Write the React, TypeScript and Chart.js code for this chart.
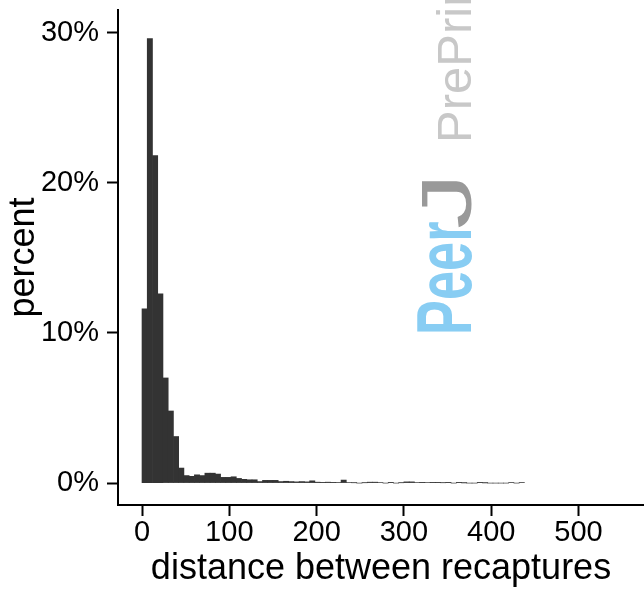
import React, { useEffect, useRef } from 'react';
import { Chart, registerables } from 'chart.js';

Chart.register(...registerables);

// Histogram: bins of fixed width starting at 0 (distance units)
const binStart = 0;
const binWidth = 6;
// percent of recaptures per bin
const percents = [
  11.6, 29.6, 21.8, 12.6, 7.0, 4.8, 3.1, 1.0, 0.5, 0.45,
  0.55, 0.5, 0.66, 0.66, 0.6, 0.38, 0.38, 0.42, 0.31, 0.25,
  0.22, 0.22, 0.1, 0.18, 0.18, 0.18, 0.1, 0.12, 0.1, 0.08,
  0.1, 0.08, 0.15, 0.06, 0.05, 0.06, 0.05, 0.04, 0.2, 0.03,
  0.02, 0, 0.02, 0.06, 0.06, 0.03, 0, 0.05, 0, 0.02,
  0.08, 0.08, 0.03, 0.05, 0.03, 0.05, 0.05, 0.02, 0.05, 0,
  0.05, 0.01, 0, 0, 0.05, 0.01, 0, 0, 0, 0,
  0.04, 0, 0.04,
];
const xTicks = [0, 100, 200, 300, 400, 500];
const yTicks = [0, 10, 20, 30];
const xLabel = 'distance between recaptures';
const yLabel = 'percent';

const FAMILY = "'Liberation Sans', Arial, Helvetica, sans-serif";

const watermark = {
  id: 'watermark',
  afterDatasetsDraw(chart: any) {
    const ctx = chart.ctx as CanvasRenderingContext2D;
    ctx.save();
    ctx.translate(471, 335);
    ctx.rotate(-Math.PI / 2);
    ctx.textBaseline = 'alphabetic';
    ctx.textAlign = 'left';
    ctx.save();
    ctx.scale(0.68, 1);
    ctx.fillStyle = '#88cdf3';
    ctx.font = `bold 77px ${FAMILY}`;
    ctx.fillText('Peer', 0, 0);
    ctx.restore();
    ctx.save();
    ctx.translate(106, 0);
    ctx.scale(1.6, 1);
    ctx.fillStyle = '#999999';
    ctx.font = `70px ${FAMILY}`;
    ctx.fillText('J', 0, 0);
    ctx.restore();
    ctx.fillStyle = '#c8c8c8';
    ctx.font = `49px ${FAMILY}`;
    ctx.fillText('PrePrints', 192, 0);
    ctx.restore();
  },
};

export default function App() {
  const ref = useRef<HTMLCanvasElement | null>(null);
  useEffect(() => {
    if (!ref.current) return;
    const data = percents.map((p, i) => ({ x: binStart + binWidth * (i + 0.5), y: p }));
    const chart = new Chart(ref.current, {
      type: 'bar',
      data: {
        datasets: [
          {
            data: data as any,
            backgroundColor: '#333333',
            borderWidth: 0,
            barPercentage: 1,
            categoryPercentage: 1,
          },
        ],
      },
      plugins: [watermark],
      options: {
        animation: false,
        responsive: false,
        devicePixelRatio: 1,
        layout: { padding: { top: 10, left: 0, right: 0, bottom: 0 } },
        plugins: {
          legend: { display: false },
          tooltip: { enabled: false },
          title: { display: false },
        },
        scales: {
          x: {
            type: 'linear',
            min: -27.5,
            max: 575,
            offset: false,
            afterFit: (s: any) => {
              s.height = 87;
              s.paddingLeft = 0;
              s.paddingRight = 0;
            },
            afterBuildTicks: (s: any) => {
              s.ticks = xTicks.map((v) => ({ value: v }));
            },
            grid: {
              offset: false,
              drawOnChartArea: false,
              drawTicks: true,
              tickLength: 11,
              tickWidth: 2,
              tickColor: '#000',
            },
            border: { display: true, color: '#000', width: 2 },
            ticks: {
              color: '#000',
              font: { family: FAMILY, size: 29, lineHeight: 1.2 },
              padding: 0,
              maxRotation: 0,
              autoSkip: false,
            },
            title: {
              display: true,
              text: xLabel,
              color: '#000',
              font: { family: FAMILY, size: 36, lineHeight: 1.2 },
              padding: { top: 0, bottom: 1 },
            },
          },
          y: {
            type: 'linear',
            min: -1.46,
            max: 31.5,
            afterFit: (s: any) => {
              s.width = 118;
              s.paddingTop = 0;
              s.paddingBottom = 0;
            },
            afterBuildTicks: (s: any) => {
              s.ticks = yTicks.map((v) => ({ value: v }));
            },
            grid: {
              drawOnChartArea: false,
              drawTicks: true,
              tickLength: 11,
              tickWidth: 2,
              tickColor: '#000',
            },
            border: { display: true, color: '#000', width: 2 },
            ticks: {
              color: '#000',
              font: { family: FAMILY, size: 29, lineHeight: 1.2 },
              padding: 8,
              callback: (v: any) => `${v}%`,
            },
            title: {
              display: true,
              text: yLabel,
              color: '#000',
              font: { family: FAMILY, size: 36, lineHeight: 1.2 },
              padding: { top: 2, bottom: 0 },
            },
          },
        },
      } as any,
    });
    return () => chart.destroy();
  }, []);
  return (
    <div style={{ position: 'absolute', left: 0, top: 0, width: 644, height: 592, background: '#fff' }}>
      <canvas ref={ref} width={644} height={592} style={{ display: 'block' }} />
    </div>
  );
}
